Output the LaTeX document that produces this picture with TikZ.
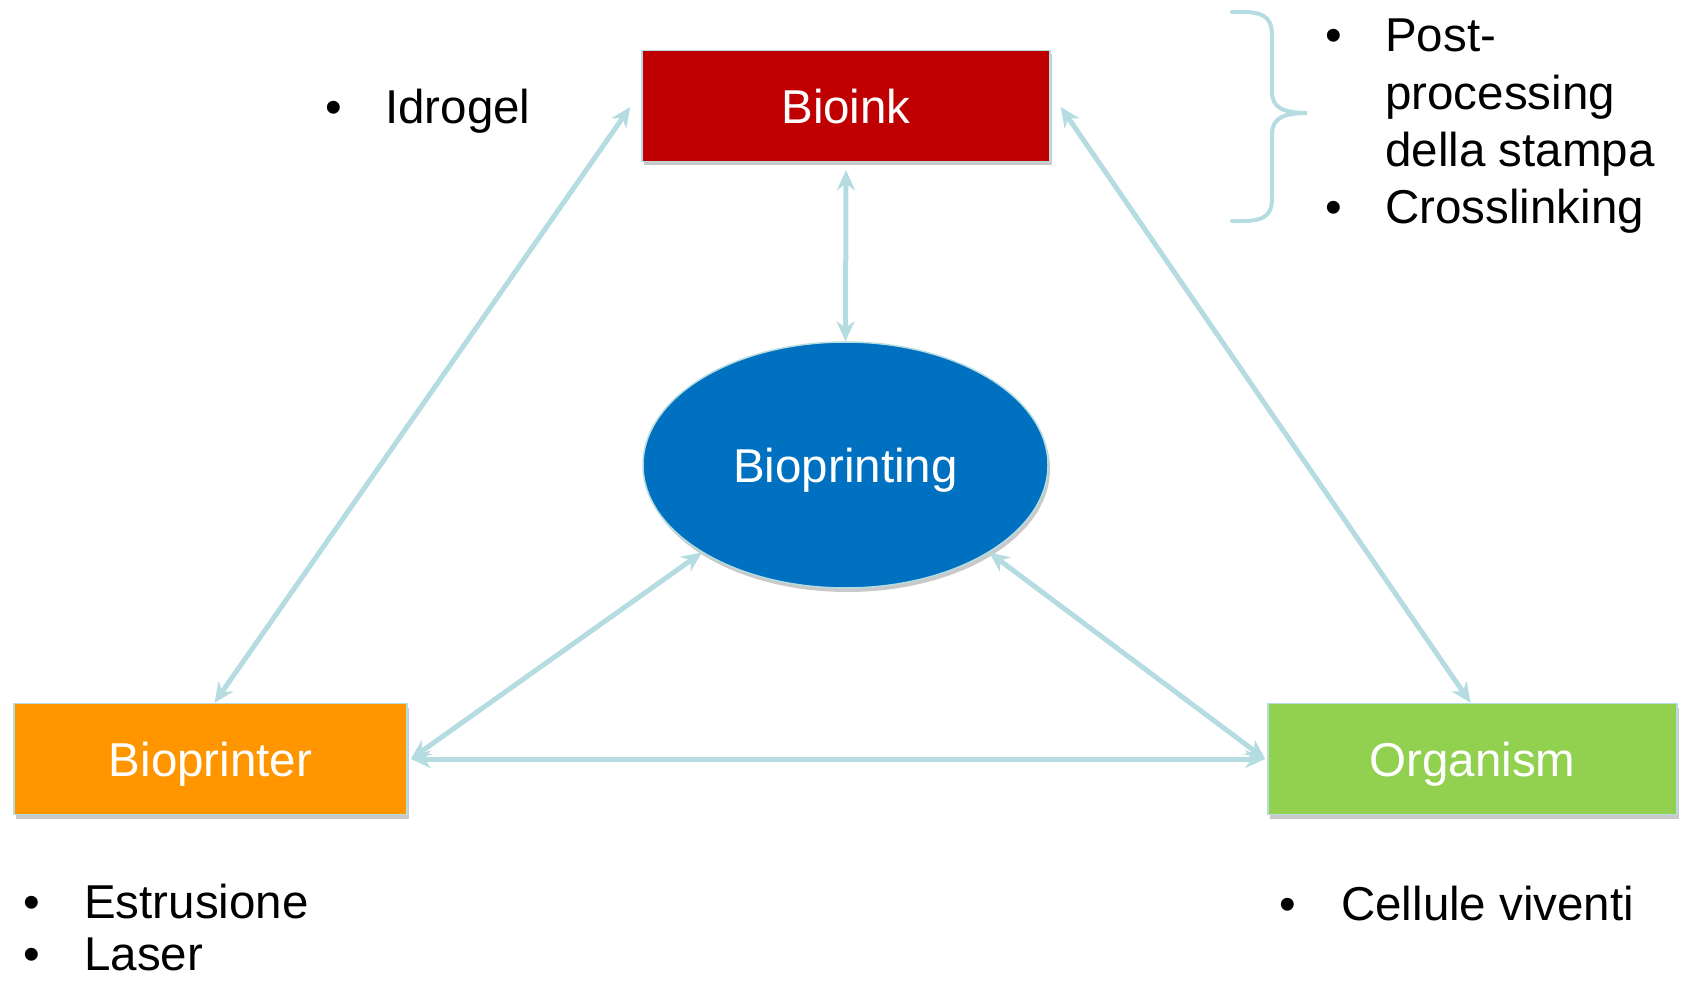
\documentclass[tikz,border=0pt]{standalone}
\usepackage{fontspec}
\setmainfont{Liberation Sans}
\usetikzlibrary{arrows.meta,shapes.geometric,shadows,calc}
\definecolor{linkblue}{RGB}{180,220,225}
\definecolor{inkred}{RGB}{192,0,0}
\definecolor{printorange}{RGB}{255,150,0}
\definecolor{orggreen}{RGB}{146,208,80}
\definecolor{printblue}{RGB}{0,112,192}
\begin{document}
\begin{tikzpicture}[x=1pt,y=-1pt,
  bigfont/.style={font=\fontsize{47.5}{57}\selectfont},
  txt/.style={bigfont, inner sep=0pt, anchor=base west, text=black},
  bul/.style={bigfont, inner sep=0pt, anchor=base, text=black},
  shade/.style={drop shadow={shadow xshift=2pt, shadow yshift=-4pt, opacity=0.3, fill=black!70}},
  boxnode/.style={rectangle, draw=linkblue, line width=1.5pt, minimum height=111pt,
    inner sep=0pt, text=white, bigfont, text depth=0pt, shade},
  ellnode/.style={ellipse, draw=linkblue, line width=1.5pt, minimum width=405pt,
    minimum height=246pt, inner sep=0pt, text=white, bigfont, text depth=0pt,
    fill=printblue, shade},
  link/.style={draw=linkblue, line width=5pt,
    {Stealth[length=20pt,width=18pt]}-{Stealth[length=20pt,width=18pt]}},
  bracestyle/.style={draw=linkblue, line width=4pt, line cap=round}
]
\useasboundingbox (0,0) rectangle (1683,981);

% main nodes
\node[boxnode, fill=inkred, minimum width=408pt] (bioink) at (846,106) {Bioink};
\node[boxnode, fill=printorange, minimum width=393pt] (bioprinter) at (210.5,759) {Bioprinter};
\node[boxnode, fill=orggreen, minimum width=409pt] (organism) at (1472.5,759) {Organism};
\node[ellnode] (bioprinting) at (845.5,465) {Bioprinting};

% helper coordinates
\coordinate (inkL) at ($(bioink.west)+(-11,1)$);
\coordinate (inkR) at ($(bioink.east)+(10,1)$);
\coordinate (inkB) at ($(bioink.south)+(0,8)$);
\coordinate (prnT) at ($(bioprinter.north)+(4,0)$);
\coordinate (prnR) at ($(bioprinter.east)+(3,0)$);
\coordinate (orgT) at ($(organism.north)+(-2,0)$);
\coordinate (orgL) at ($(organism.west)+(-2,0)$);

% connectors
\draw[link] (inkL) -- (prnT);
\draw[link] (inkR) -- (orgT);
\draw[link] (inkB) -- (bioprinting.north);
\draw[link] (bioprinting.south west) -- (prnR);
\draw[link] (bioprinting.south east) -- (orgL);
\draw[link] (prnR) -- (orgL);

% brace
\draw[bracestyle] (1232,12) .. controls (1262,11) and (1272,15) .. (1272,36)
  -- (1272,92) .. controls (1272,108) and (1284,113) .. (1307,113)
  .. controls (1284,113) and (1272,118) .. (1272,134)
  -- (1272,198) .. controls (1272,218) and (1262,222) .. (1232,221);

% labels
\node[bul] (b1) at (334,124) {•};
\node[txt] (t1) at (385,124) {Idrogel};

\node[bul] (b2) at (1334,52) {•};
\node[txt] (t2) at (1385,52) {Post-};
\node[txt] (t3) at (1385,110) {processing};
\node[txt] (t4) at (1385,167) {della stampa};
\node[bul] (b3) at (1334,224) {•};
\node[txt] (t5) at (1385,224) {Crosslinking};

\node[bul] (b4) at (32,918) {•};
\node[txt] (t6) at (84,918) {Estrusione};
\node[bul] (b5) at (32,970) {•};
\node[txt] (t7) at (84,970) {Laser};

\node[bul] (b6) at (1288,920) {•};
\node[txt] (t8) at (1341,920) {Cellule viventi};
\end{tikzpicture}
\end{document}
